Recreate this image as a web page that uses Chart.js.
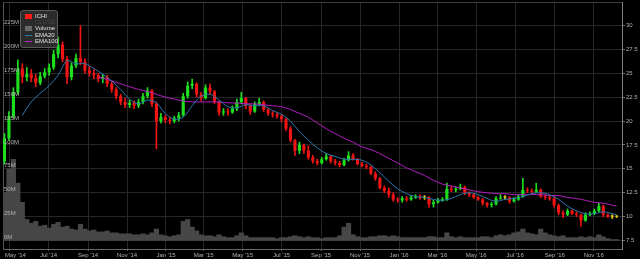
<!DOCTYPE html>
<html>
<head>
<meta charset="utf-8">
<title>ICHI</title>
<script src="https://cdn.jsdelivr.net/npm/chart.js@4.4.1/dist/chart.umd.min.js"></script>
<style>
  html, body { margin: 0; padding: 0; background: #000; }
  #wrap { position: relative; width: 640px; height: 259px; }
  #legend {
    position: absolute; left: 20px; top: 10px; width: 36px; height: 36px;
    background: #2b2b2b; border: 1px solid #5a5a5a; border-radius: 3px;
    font: 6px "Liberation Sans", Arial, sans-serif; color: #e0e0e0;
  }
  #legend .sw { position: absolute; left: 4px; width: 7px; }
  #legend .txt { position: absolute; left: 14px; height: 6px; line-height: 6px; white-space: nowrap; }
</style>
</head>
<body>
<div id="wrap">
  <canvas id="chart"></canvas>
  <div id="legend">
    <div class="sw" style="top:3px;height:5px;background:#ff1a1a"></div><div class="txt" style="top:2px">ICHI</div>
    <div class="txt" style="top:8px;color:#444">CLOSE</div>
    <div class="sw" style="top:15px;height:5px;background:#6a6a6a"></div><div class="txt" style="top:14px">Volume</div>
    <div class="sw" style="top:24px;height:1px;background:#2a78b0"></div><div class="txt" style="top:21px">EMA20</div>
    <div class="sw" style="top:30px;height:1px;background:#b21cc0"></div><div class="txt" style="top:27px">EMA100</div>
  </div>
</div>
<script>
// weekly candles, first week centred on this date
const FIRST_WEEK = '2014-04-23';

const OPEN = [15.8, 18.2, 20.5, 23.0, 25.5, 24.6, 24.9, 24.5, 24.0, 24.7,
  25.1, 25.6, 27.0, 28.0, 26.5, 24.6, 25.8, 26.6, 26.2, 25.3,
  25.0, 24.8, 24.4, 24.6, 23.9, 23.3, 22.6, 22.0, 21.7, 21.9,
  21.6, 22.0, 22.6, 23.2, 21.8, 20.0, 20.4, 20.1, 20.0, 20.3,
  20.6, 22.6, 23.7, 23.9, 22.8, 22.4, 23.5, 23.1, 22.0, 20.9,
  21.0, 20.9, 21.3, 22.0, 22.4, 21.6, 21.0, 21.8, 22.0, 21.2,
  20.8, 20.7, 20.5, 20.2, 19.2, 18.0, 16.9, 17.5, 16.9, 16.2,
  15.8, 15.6, 16.0, 16.3, 15.8, 15.6, 15.4, 15.9, 16.4, 16.0,
  15.5, 15.3, 15.2, 14.5, 14.0, 13.0, 12.7, 12.3, 11.8, 11.7,
  11.9, 11.8, 12.0, 12.1, 12.0, 12.0, 11.3, 11.5, 11.7, 11.8,
  12.9, 12.8, 12.9, 13.1, 12.5, 12.3, 12.0, 11.8, 11.4, 11.2,
  11.3, 11.9, 12.0, 12.0, 11.6, 11.8, 12.1, 12.8, 12.7, 12.6,
  12.8, 12.1, 12.0, 11.9, 11.2, 10.4, 10.2, 10.6, 10.3, 10.2,
  9.6, 10.2, 10.3, 10.6, 11.1, 10.2, 10.0, 10.0];
const HIGH = [18.7, 21.0, 23.5, 26.4, 26.0, 25.6, 25.4, 24.9, 25.1, 25.5,
  26.0, 27.4, 28.8, 28.3, 26.8, 26.1, 27.0, 30.0, 26.5, 25.7,
  25.4, 25.0, 24.9, 24.8, 24.1, 23.5, 22.8, 22.4, 22.2, 22.1,
  22.3, 22.9, 23.5, 23.3, 22.0, 20.8, 20.6, 20.4, 20.5, 20.9,
  22.9, 24.1, 24.4, 24.0, 23.0, 23.8, 23.9, 23.2, 22.1, 21.3,
  21.3, 21.6, 22.3, 23.0, 22.5, 21.8, 22.0, 22.4, 22.1, 21.3,
  21.0, 20.9, 20.7, 20.3, 19.4, 18.1, 17.8, 17.6, 17.4, 16.4,
  16.0, 16.2, 16.6, 16.4, 16.0, 15.8, 16.1, 16.8, 16.6, 16.1,
  15.7, 15.5, 15.3, 14.7, 14.1, 13.2, 13.0, 12.5, 12.0, 12.1,
  12.1, 12.2, 12.3, 12.3, 12.2, 12.1, 11.7, 11.9, 12.0, 13.5,
  13.2, 13.1, 13.4, 13.2, 12.6, 12.4, 12.1, 11.9, 11.5, 11.5,
  12.1, 12.3, 12.2, 12.1, 12.0, 12.3, 14.0, 13.0, 12.9, 13.5,
  12.9, 12.3, 12.2, 12.0, 11.3, 10.6, 10.8, 10.7, 10.5, 10.3,
  10.4, 10.5, 10.8, 11.4, 11.2, 10.3, 10.2, 10.1];
const LOW = [15.5, 18.0, 20.3, 22.8, 24.0, 24.2, 24.1, 23.6, 23.8, 24.5,
  24.8, 25.4, 26.6, 26.2, 23.9, 24.3, 25.6, 25.9, 25.0, 24.7,
  24.4, 24.1, 24.0, 23.6, 23.0, 22.3, 21.7, 21.4, 21.4, 21.3,
  21.4, 21.8, 22.4, 21.5, 17.1, 19.8, 19.8, 19.7, 19.8, 20.0,
  20.5, 22.4, 23.4, 22.5, 22.1, 22.3, 22.8, 21.8, 20.6, 20.6,
  20.6, 20.8, 21.1, 21.8, 21.3, 20.7, 20.9, 21.6, 21.0, 20.6,
  20.4, 20.3, 19.9, 19.0, 17.8, 16.4, 16.6, 16.6, 16.0, 15.6,
  15.4, 15.5, 15.9, 15.6, 15.4, 15.2, 15.3, 15.8, 15.9, 15.4,
  15.2, 15.0, 14.4, 13.8, 12.9, 12.5, 12.0, 11.6, 11.5, 11.5,
  11.6, 11.7, 11.9, 11.8, 11.8, 11.0, 11.0, 11.4, 11.6, 11.7,
  12.6, 12.6, 12.8, 12.3, 12.1, 11.9, 11.7, 11.2, 11.0, 11.0,
  11.2, 11.8, 11.8, 11.4, 11.5, 11.7, 12.0, 12.5, 12.4, 12.5,
  12.0, 11.8, 11.7, 11.0, 10.2, 9.9, 10.1, 10.2, 10.0, 9.0,
  9.5, 10.1, 10.2, 10.5, 10.0, 9.9, 9.8, 9.9];
const CLOSE = [18.2, 20.5, 23.0, 25.5, 24.6, 24.9, 24.5, 24.0, 24.7, 25.1,
  25.6, 27.0, 28.0, 26.5, 24.6, 25.8, 26.6, 26.2, 25.3, 25.0,
  24.8, 24.4, 24.6, 23.9, 23.3, 22.6, 22.0, 21.7, 21.9, 21.6,
  22.0, 22.6, 23.2, 21.8, 20.0, 20.4, 20.1, 20.0, 20.3, 20.6,
  22.6, 23.7, 23.9, 22.8, 22.4, 23.5, 23.1, 22.0, 20.9, 21.0,
  20.9, 21.3, 22.0, 22.4, 21.6, 21.0, 21.8, 22.0, 21.2, 20.8,
  20.7, 20.5, 20.2, 19.2, 18.0, 16.9, 17.5, 16.9, 16.2, 15.8,
  15.6, 16.0, 16.3, 15.8, 15.6, 15.4, 15.9, 16.4, 16.0, 15.5,
  15.3, 15.2, 14.5, 14.0, 13.0, 12.7, 12.3, 11.8, 11.7, 11.9,
  11.8, 12.0, 12.1, 12.0, 12.0, 11.3, 11.5, 11.7, 11.8, 12.9,
  12.8, 12.9, 13.1, 12.5, 12.3, 12.0, 11.8, 11.4, 11.2, 11.3,
  11.9, 12.0, 12.0, 11.6, 11.8, 12.1, 12.8, 12.7, 12.6, 12.8,
  12.1, 12.0, 11.9, 11.2, 10.4, 10.2, 10.6, 10.3, 10.2, 9.6,
  10.2, 10.3, 10.6, 11.1, 10.2, 10.0, 10.0, 10.0];
// volume in millions
const VOLUME = [50, 75, 85, 60, 40, 22, 18, 20, 15, 16,
  13, 17, 19, 14, 15, 12, 11, 17, 12, 10,
  11, 9, 9, 10, 8, 8, 7, 7, 7, 6,
  6, 7, 6, 8, 12, 6, 5, 4, 5, 6,
  20, 22, 14, 10, 6, 5, 5, 4, 6, 4,
  3, 3, 5, 8, 5, 3, 3, 3, 3, 3,
  3, 2, 3, 3, 4, 5, 4, 3, 4, 3,
  3, 2, 3, 3, 3, 5, 14, 18, 6, 4,
  3, 3, 4, 4, 5, 5, 4, 5, 4, 3,
  3, 3, 3, 3, 3, 4, 4, 3, 3, 8,
  4, 3, 4, 3, 3, 3, 3, 4, 4, 3,
  5, 6, 5, 6, 8, 9, 12, 8, 7, 6,
  12, 8, 6, 5, 4, 5, 3, 3, 3, 4,
  3, 4, 3, 6, 4, 2, 1, 1];

// moving averages, read at these week indices
const EMA20_WEEKS = [4, 6, 8, 10, 12, 14, 16, 18, 20, 22, 24, 26, 28, 30, 32, 34, 36, 38, 40, 42,
  44, 46, 48, 50, 52, 54, 56, 58, 60, 62, 64, 66, 68, 70, 72, 74, 76, 78, 80, 82,
  84, 86, 88, 90, 92, 94, 96, 98, 100, 102, 104, 106, 108, 110, 112, 114, 116, 118, 120, 122,
  124, 126, 128, 130, 132, 134, 136, 137];
const EMA20 = [20.6, 22.0, 22.9, 23.7, 24.8, 26.3, 26.0, 26.0, 25.5, 24.9, 24.2, 23.3, 22.3, 21.8, 22.2, 21.9, 20.8, 20.2, 20.4, 21.6,
  22.6, 22.8, 22.2, 21.5, 21.4, 21.7, 21.6, 21.6, 21.1, 20.7, 20.0, 18.9, 18.0, 17.2, 16.6, 16.3, 16.0, 16.0, 15.9, 15.4,
  14.6, 13.7, 12.9, 12.4, 12.1, 12.0, 11.8, 11.7, 11.9, 12.3, 12.5, 12.3, 11.9, 11.6, 11.8, 11.9, 12.1, 12.4, 12.5, 12.3,
  11.8, 11.1, 10.6, 10.3, 10.3, 10.5, 10.3, 10.2];
const EMA100_WEEKS = [21, 22, 24, 26, 28, 30, 32, 34, 36, 38, 40, 42, 44, 46, 48, 50, 52, 54, 56, 58,
  60, 62, 64, 66, 68, 70, 72, 74, 76, 78, 80, 82, 84, 86, 88, 90, 92, 94, 96, 98,
  100, 102, 104, 106, 108, 110, 112, 114, 116, 118, 120, 122, 124, 126, 128, 130, 132, 134, 136, 137];
const EMA100 = [24.6, 24.5, 24.2, 23.9, 23.6, 23.3, 23.1, 22.8, 22.5, 22.3, 22.1, 22.0, 22.0, 22.0, 22.0, 21.9, 21.9, 21.8, 21.8, 21.7,
  21.6, 21.5, 21.2, 20.8, 20.4, 19.8, 19.2, 18.7, 18.2, 17.8, 17.3, 17.0, 16.6, 16.1, 15.6, 15.1, 14.7, 14.3, 13.8, 13.4,
  13.2, 13.0, 12.8, 12.6, 12.5, 12.4, 12.4, 12.3, 12.3, 12.3, 12.3, 12.2, 12.2, 12.0, 11.9, 11.7, 11.5, 11.4, 11.2, 11.1];

const TICK_DATES = ['2014-05-01', '2014-07-01', '2014-09-01', '2014-11-01', '2015-01-01', '2015-03-01',
  '2015-05-01', '2015-07-01', '2015-09-01', '2015-11-01', '2016-01-01', '2016-03-01',
  '2016-05-01', '2016-07-01', '2016-09-01', '2016-11-01'];
const TICK_LABELS = ["May '14", "Jul '14", "Sep '14", "Nov '14", "Jan '15", "Mar '15",
  "May '15", "Jul '15", "Sep '15", "Nov '15", "Jan '16", "Mar '16",
  "May '16", "Jul '16", "Sep '16", "Nov '16"];
const PRICE_TICKS = [7.5, 10, 12.5, 15, 17.5, 20, 22.5, 25, 27.5, 30];
const VOLUME_TICKS = [0, 25, 50, 75, 100, 125, 150, 175, 200, 225];

// days since 2014-01-01
const DAY0 = Date.UTC(2014, 0, 1);
function dayOf(s) {
    return (Date.parse(s) - DAY0) / 86400000;
}
const weekX = i => dayOf(FIRST_WEEK) + 7 * i;

const UP = '#1fe01f', DOWN = '#f01414', FLAT = '#e6cc1a';
const candleColors = CLOSE.map((c, i) => {
    if (Math.abs(c - OPEN[i]) < 0.05) return FLAT;
    return c > OPEN[i] ? UP : DOWN;
});

const wicks = CLOSE.map((c, i) => ({ x: weekX(i), y: [LOW[i], HIGH[i]] }));
const bodies = CLOSE.map((c, i) => ({ x: weekX(i), y: [OPEN[i], c] }));
const volumes = VOLUME.map((v, i) => ({ x: weekX(i), y: v }));
const ema20 = EMA20.map((v, i) => ({ x: weekX(EMA20_WEEKS[i]), y: v }));
const ema100 = EMA100.map((v, i) => ({ x: weekX(EMA100_WEEKS[i]), y: v }));

const tickFont = { family: '"Liberation Sans", Arial, sans-serif', size: 6 };

const backdrop = {
    id: 'backdrop',
    beforeDraw(chart) {
        const c = chart.ctx;
        c.save();
        c.fillStyle = '#000';
        c.fillRect(0, 0, chart.width, chart.height);
        c.restore();
    },
    beforeDatasetsDraw(chart) {
        const a = chart.chartArea, c = chart.ctx;
        c.save();
        c.strokeStyle = '#3a3a3a';
        c.lineWidth = 1;
        c.beginPath();
        c.moveTo(a.left, a.top + 0.5);
        c.lineTo(a.right, a.top + 0.5);
        c.stroke();
        c.restore();
    }
};

new Chart(document.getElementById('chart'), {
    type: 'bar',
    data: {
        datasets: [
            {
                type: 'line', label: 'EMA20', data: ema20, yAxisID: 'y', order: 1,
                borderColor: '#2a78b0', borderWidth: 1, pointRadius: 0, tension: 0.35
            },
            {
                type: 'line', label: 'EMA100', data: ema100, yAxisID: 'y', order: 2,
                borderColor: '#b21cc0', borderWidth: 1, pointRadius: 0, tension: 0.35
            },
            {
                label: 'ICHI', data: bodies, yAxisID: 'y', order: 3, grouped: false,
                backgroundColor: candleColors, barPercentage: 0.7, categoryPercentage: 1, minBarLength: 1
            },
            {
                label: 'ICHI wick', data: wicks, yAxisID: 'y', order: 4, grouped: false,
                backgroundColor: candleColors, barThickness: 1
            },
            {
                label: 'Volume', data: volumes, yAxisID: 'yv', order: 5, grouped: false,
                backgroundColor: '#474747', barPercentage: 1, categoryPercentage: 1
            }
        ]
    },
    options: {
        responsive: true,
        maintainAspectRatio: false,
        animation: false,
        layout: { padding: { top: 2, left: 0, right: 0, bottom: 0 } },
        plugins: { legend: { display: false }, tooltip: { enabled: false } },
        scales: {
            x: {
                type: 'linear',
                offset: false,
                min: 109.7,
                max: 1079.3,
                afterBuildTicks: ax => { ax.ticks = TICK_DATES.map(d => ({ value: dayOf(d) })); },
                afterFit: ax => { ax.height = 10; ax.paddingLeft = 0; ax.paddingRight = 0; },
                grid: { offset: false, color: '#262626', tickLength: 2, tickColor: '#555' },
                border: { color: '#666' },
                ticks: {
                    autoSkip: false, maxRotation: 0, padding: 1, color: '#b0b0b0', font: tickFont,
                    // first label sits right of its line in the original
                    callback: (v, i) => i === 0 ? '       ' + TICK_LABELS[0] : TICK_LABELS[i]
                }
            },
            y: {
                position: 'right',
                min: 6.61,
                max: 32.46,
                afterBuildTicks: ax => { ax.ticks = PRICE_TICKS.map(v => ({ value: v })); },
                afterFit: ax => { ax.width = 18; ax.paddingTop = 0; ax.paddingBottom = 0; },
                grid: { color: '#262626', tickLength: 3, tickColor: '#777' },
                border: { color: '#808080' },
                ticks: { padding: 1, color: '#b0b0b0', font: tickFont, callback: v => String(v) }
            },
            yv: {
                position: 'left',
                min: -8.9,
                max: 249.6,
                afterBuildTicks: ax => { ax.ticks = VOLUME_TICKS.map(v => ({ value: v })); },
                afterFit: ax => { ax.width = 3; ax.paddingTop = 0; ax.paddingBottom = 0; },
                grid: { display: false },
                border: { color: '#555' },
                // labels sit over the volume bars
                ticks: { z: 1, mirror: true, padding: 1, labelOffset: -3, color: '#b0b0b0', font: tickFont, callback: v => v + 'M' }
            }
        }
    },
    plugins: [backdrop]
});
</script>
</body>
</html>
